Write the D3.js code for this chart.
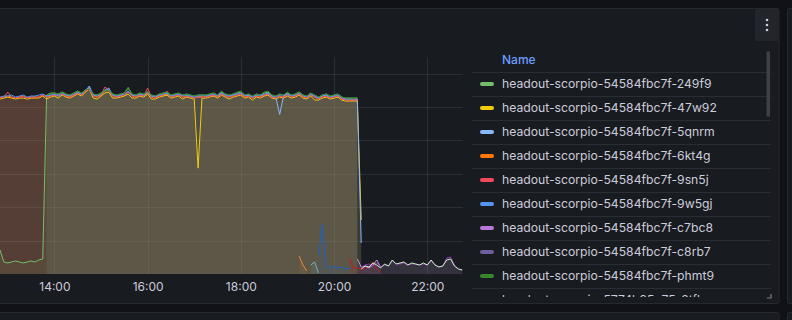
<!DOCTYPE html>
<html><head><meta charset="utf-8">
<script src="https://cdn.jsdelivr.net/npm/d3@7"></script>
<style>
html,body{margin:0;padding:0;background:#111217;overflow:hidden;}
svg{display:block;font-family:Inter,"Noto Sans",sans-serif;}
</style></head><body>
<svg id="c" width="792" height="320"></svg>
<script>
// ---------- data ----------
const startTime = "2024-01-01T12:50:00";
const endTime = "2024-01-01T22:46:00";
const stepMinutes = 5;
const xTickTimes = ["2024-01-01T14:00:00","2024-01-01T16:00:00","2024-01-01T18:00:00","2024-01-01T20:00:00","2024-01-01T22:00:00"];
const xTickLabels = ["14:00","16:00","18:00","20:00","22:00"];
const yGridValues = [10,20,30,40,50,60];
const yMax = 65;

const seriesNames = [
  "headout-scorpio-54584fbc7f-249f9",
  "headout-scorpio-54584fbc7f-47w92",
  "headout-scorpio-54584fbc7f-5qnrm",
  "headout-scorpio-54584fbc7f-6kt4g",
  "headout-scorpio-54584fbc7f-9sn5j",
  "headout-scorpio-54584fbc7f-9w5gj",
  "headout-scorpio-54584fbc7f-c7bc8",
  "headout-scorpio-54584fbc7f-c8rb7",
  "headout-scorpio-54584fbc7f-phmt9",
  "headout-scorpio-5774b95c75-8tfkc",
  "headout-scorpio-5774b95c75-b2xzq",
  "headout-scorpio-5774b95c75-d9lwm",
  "headout-scorpio-5774b95c75-hk7rt",
  "headout-scorpio-5774b95c75-m4vzn",
  "headout-scorpio-5774b95c75-qs8jd",
  "headout-scorpio-5774b95c75-x6cpf"
];
const seriesColors = ["#73BF69","#F2CC0C","#8AB8FF","#FF780A","#F2495C","#5794F2","#B877D9","#705DA0","#37872D",
  "#EF843C","#6CB4C8","#1F60C4","#C4162A","#CA95E5","#8F3BB8","#C8F2C2"];
// index (in 5-minute steps from startTime) of each series' first value
const seriesStart = [0,0,12,0,0,0,0,0,12,77,80,82,90,92,93,93];

const pod249f9 = [7.2,3.6,3.3,3.6,3.9,3.6,3.3,3.6,3.9,3.6,
 4.2,4.5,53.6,54.2,54.2,53.9,54.5,53.9,53.6,54.2,
 54.8,54.2,55.1,55.4,53.9,53.6,54.2,55.1,55.1,53.9,
 53.6,53.9,54.2,55.7,53.9,53.6,54.2,53.9,54.5,53.6,
 53.3,53.9,54.2,54.5,53.6,53.9,54.2,53.6,53.9,53.6,
 53.3,53.6,53.6,53.6,53.9,54.2,53.6,54.5,53.9,53.6,
 53.9,54.2,54.5,53.6,53.9,53.3,53.9,53.6,54.2,54.5,
 53.6,53.3,53.9,53.6,54.2,53.6,53.9,54.5,53.6,53.3,
 54.2,53.6,53.0,53.6,53.9,53.3,53.6,53.9,53.0,52.7,
 52.7,52.7,52.7];
const pod47w92 = [52.4,52.7,53.0,52.7,52.4,52.7,52.7,52.4,52.7,52.7,
 52.7,53.3,52.4,53.0,53.3,52.7,53.6,53.0,52.7,53.3,
 53.9,53.3,54.5,55.4,52.7,52.4,53.3,54.2,54.5,52.7,
 52.7,53.0,53.3,53.9,52.7,52.7,53.3,53.0,53.9,52.4,
 52.4,53.0,53.3,53.6,52.7,53.0,53.3,52.4,53.0,52.7,
 52.4,31.7,52.7,52.7,53.0,53.3,52.7,53.6,53.0,52.4,
 53.0,53.3,53.6,52.7,53.0,52.1,53.0,52.7,53.3,53.6,
 52.7,52.4,53.0,52.7,53.3,52.7,53.0,53.6,52.7,52.4,
 53.3,52.1,52.1,52.7,53.0,52.4,52.7,53.0,52.1,51.8,
 51.8,51.8,51.8,16.2];
const pod5qnrm = [53.3,53.6,53.6,53.6,53.9,53.6,53.3,53.9,
 54.2,53.9,54.8,56.3,53.6,53.3,53.6,54.8,55.7,53.6,
 53.3,53.6,53.6,54.5,53.6,53.3,53.6,53.6,54.2,53.3,
 53.0,53.6,53.6,53.9,53.3,53.6,53.6,53.3,53.3,53.3,
 53.0,53.0,53.3,53.3,53.6,53.6,53.3,54.2,53.6,53.3,
 53.6,53.6,53.9,53.3,53.6,53.0,53.3,53.3,53.6,54.2,
 53.3,53.0,47.8,53.3,53.9,53.3,53.6,53.9,53.3,53.0,
 53.6,53.3,52.7,53.3,53.6,53.0,53.3,53.3,52.7,52.4,
 52.4,52.1,52.4,9.3];
const pod6kt4g = [52.7,53.0,53.3,53.0,52.7,53.0,53.3,52.7,53.0,53.0,
 53.0,53.6,53.0,53.3,53.6,53.3,53.9,53.3,53.0,53.6,
 54.2,53.6,54.8,55.7,53.3,53.0,53.6,54.8,55.1,53.3,
 53.0,53.3,53.6,54.5,53.3,53.0,53.6,53.3,54.2,53.0,
 52.7,53.3,53.6,53.9,53.0,53.3,53.6,53.0,53.3,53.0,
 52.7,53.0,53.0,53.0,53.3,53.6,53.0,53.9,53.3,53.0,
 53.3,53.6,53.9,53.0,53.3,52.7,53.3,53.0,53.6,53.9,
 53.0,52.7,53.3,53.0,53.6,53.0,53.3,53.9,53.0,52.7,
 53.6,53.0,52.4,53.0,53.3,52.7,53.0,53.3,52.4,52.1,
 52.1,52.1,52.1];
const pod9sn5j = [52.7,53.0,54.5,53.0,52.7,53.0,53.0,52.7,53.0,53.0,
 53.0,53.6,53.0,53.3,53.6,53.3,53.9,53.3,53.0,53.6,
 54.2,53.6,54.8,55.4,53.3,53.0,53.6,56.0,55.1,53.3,
 53.0,53.3,53.6,54.5,53.3,53.0,53.6,53.3,55.7,53.0,
 52.7,53.3,53.6,54.8,53.0,53.3,53.6,53.0,53.3,53.0,
 52.7,53.0,53.0,53.0,53.3,53.6,53.0,53.9,53.3,53.0,
 53.3,53.6,53.9,53.0,53.3,52.7,53.3,53.0,53.6,53.9,
 53.0,52.7,53.3,53.0,53.6,53.0,53.3,53.9,53.0,52.7,
 53.6,53.0,52.4,53.0,53.3,52.7,53.0,53.3,52.4,52.1,
 52.1,52.1,52.1];
const pod9w5gj = [53.0,53.3,53.3,53.6,53.0,53.3,53.6,53.0,53.3,53.3,
 53.6,53.9,53.3,53.6,53.9,53.3,54.2,53.6,53.6,53.9,
 54.5,53.9,55.1,56.0,53.6,53.6,53.9,55.1,55.4,53.6,
 53.3,53.6,53.9,54.8,53.6,53.6,53.9,53.6,54.5,53.3,
 53.3,53.6,53.9,54.2,53.3,53.6,53.9,53.6,53.6,53.3,
 53.0,53.3,53.6,53.3,53.6,53.9,53.6,54.2,53.6,53.3,
 53.6,53.9,54.2,53.6,53.6,53.0,53.6,53.6,53.9,54.2,
 53.3,53.0,53.6,53.6,53.9,53.3,53.6,54.2,53.6,53.0,
 53.9,53.3,52.7,53.6,53.6,53.0,53.3,53.6,52.7,52.4,
 52.4,52.4,52.4];
const podc7bc8 = [];
const podc8rb7 = [];
const podphmt9 = [53.6,53.9,54.2,53.9,54.5,53.9,53.6,54.2,
 54.8,54.2,55.1,55.4,53.9,53.6,54.2,54.8,55.1,53.9,
 53.6,53.9,54.2,56.0,53.9,53.6,54.2,53.9,54.5,53.6,
 53.3,53.9,54.2,54.5,53.6,53.9,54.2,53.6,53.9,53.6,
 53.3,53.6,53.6,53.6,53.9,54.2,53.6,54.8,53.9,53.6,
 53.9,54.5,54.8,53.6,53.9,53.3,53.9,53.6,54.5,54.8,
 53.6,53.3,53.9,53.6,54.5,53.6,53.9,54.5,53.6,53.3,
 54.2,53.6,53.0,53.6,53.9,53.3,53.6,53.9,53.0,52.7,
 52.7,52.7,52.7];
const pod8tfkc = [5.4,2.7,0.9];
const podb2xzq = [2.7,3.6,0.3];
const podd9lwm = [5.7,15.0,2.4,1.8,2.4,1.8,2.1,1.5,1.8];
const podhk7rt = [4.8,1.8,1.8,1.5,1.8,2.1,3.6,1.5,0.6];
const podm4vzn = [4.5,2.1,2.4,1.8,2.7,4.2,2.1];
const podqs8jd = [2.1,2.7,3.0,2.4,3.3,2.1,2.7,2.4,3.9,3.0,3.0,3.3,2.7,3.0,3.0,2.7,3.0,2.7,3.9,2.7,2.1,2.4,4.8,5.1,2.7,1.5,1.2];
const podx6cpf = [1.5,2.4,2.1,3.3,2.7,1.8,3.0,2.4,4.2,3.0,3.3,3.6,2.7,3.3,3.0,2.7,3.3,2.7,4.2,2.7,2.1,2.4,4.2,4.5,2.4,1.5,1.2];

const seriesValues = [pod249f9,pod47w92,pod5qnrm,pod6kt4g,pod9sn5j,pod9w5gj,podc7bc8,podc8rb7,podphmt9,
  pod8tfkc,podb2xzq,podd9lwm,podhk7rt,podm4vzn,podqs8jd,podx6cpf];

// ---------- drawing ----------
const svg = d3.select("#c");
const parse = d3.isoParse;
const t0 = parse(startTime);
const series = seriesNames.map((name, k) => ({
  name, color: seriesColors[k],
  points: seriesValues[k].map((v, j) => ({t: d3.timeMinute.offset(t0, (seriesStart[k] + j) * stepMinutes), v}))
}));

// panels
svg.append("rect").attr("x",-10.5).attr("y",8.5).attr("width",789.5).attr("height",295)
  .attr("rx",2).attr("fill","#181b1f").attr("stroke","#26292f");
svg.append("rect").attr("x",787.5).attr("y",8.5).attr("width",20).attr("height",295)
  .attr("rx",2).attr("fill","#181b1f").attr("stroke","#26292f");
svg.append("rect").attr("x",-10.5).attr("y",312.5).attr("width",789.5).attr("height",30)
  .attr("rx",2).attr("fill","#181b1f").attr("stroke","#26292f");
svg.append("rect").attr("x",787.5).attr("y",312.5).attr("width",20).attr("height",30)
  .attr("rx",2).attr("fill","#181b1f").attr("stroke","#26292f");

// menu button
svg.append("rect").attr("x",755).attr("y",9).attr("width",24).attr("height",32).attr("rx",2).attr("fill","#22252b");
[20,25,30].forEach(cy => svg.append("circle").attr("cx",767).attr("cy",cy).attr("r",1.3).attr("fill","#ccccdc"));

const plot = {left:0, right:463, top:57, bottom:274};
const x = d3.scaleTime().domain([parse(startTime), parse(endTime)]).range([plot.left, plot.right]);
const y = d3.scaleLinear().domain([0, yMax]).range([plot.bottom, plot.top]);

const grid = svg.append("g");
grid.selectAll("line.h").data(yGridValues).join("line")
  .attr("x1",plot.left).attr("x2",plot.right).attr("y1",d=>Math.round(y(d))+0.5).attr("y2",d=>Math.round(y(d))+0.5)
  .attr("stroke","rgba(240,250,255,0.09)");
const tickDates = xTickTimes.map(parse);
grid.selectAll("line.v").data(tickDates).join("line")
  .attr("x1",d=>Math.round(x(d))+0.5).attr("x2",d=>Math.round(x(d))+0.5).attr("y1",plot.top).attr("y2",plot.bottom)
  .attr("stroke","rgba(240,250,255,0.09)");

const area = d3.area().defined(d=>d.v!=null).x(d=>x(d.t)).y0(y(0)).y1(d=>y(d.v));
const line = d3.line().defined(d=>d.v!=null).x(d=>x(d.t)).y(d=>y(d.v));
const gS = svg.append("g");
series.forEach(s => {
  if (!s.points.length) return;
  gS.append("path").attr("d", area(s.points)).attr("fill", s.color).attr("fill-opacity", 0.1);
});
series.forEach(s => {
  if (!s.points.length) return;
  gS.append("path").attr("d", line(s.points)).attr("fill","none").attr("stroke", s.color).attr("stroke-width",1);
});

// x axis
const xAxis = d3.axisBottom(x).tickValues(tickDates).tickFormat((d,i)=>xTickLabels[i]).tickSize(0).tickPadding(8);
const ax = svg.append("g").attr("transform",`translate(0,${plot.bottom})`).call(xAxis);
ax.select(".domain").remove();
ax.selectAll("text").attr("fill","#ccccdc").attr("font-size",12).attr("font-family","Inter");

// legend (only rows that fall inside the visible scroll area)
const lg = svg.append("g");
svg.append("clipPath").attr("id","lgclip").append("rect").attr("x",472).attr("y",44).attr("width",300).attr("height",253);
const lgc = lg.append("g").attr("clip-path","url(#lgclip)");
lgc.append("text").attr("x",502).attr("y",60).attr("dy","0.35em").attr("fill","#6e9fff")
  .attr("font-size",12).attr("font-weight",500).text("Name");
series.forEach((s,k) => {
  const cy = 84 + k*24;
  if (cy > 305) return;
  lgc.append("line").attr("x1",472).attr("x2",771).attr("y1",cy-12+0.5).attr("y2",cy-12+0.5).attr("stroke","#2a2d33");
  lgc.append("rect").attr("x",480).attr("y",cy-2).attr("width",14).attr("height",4).attr("rx",2).attr("fill",s.color);
  lgc.append("text").attr("x",502).attr("y",cy).attr("dy","0.35em").attr("fill","#ccccdc").attr("font-size",12.2).text(s.name);
});
lg.append("rect").attr("x",766.5).attr("y",51).attr("width",3.5).attr("height",66).attr("rx",1.75).attr("fill","#3d4047");
lg.append("path").attr("d","M771,294 L771,298 L767,298").attr("fill","none").attr("stroke","#7a7d85").attr("stroke-width",1.2);
</script>
</body></html>
